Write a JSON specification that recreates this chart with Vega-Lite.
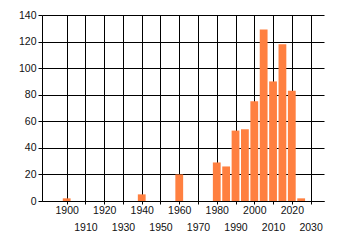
{
  "$schema": "https://vega.github.io/schema/vega-lite/v6.json",
  "width": 282,
  "height": 186,
  "autosize": {"type": "none"},
  "padding": {"left": 42, "top": 15, "right": 16, "bottom": 44},
  "background": "white",
  "config": {
    "view": {"stroke": null},
    "axis": {
      "labelFont": "Liberation Sans",
      "labelFontSize": 10.5,
      "labelColor": "#111111",
      "domainColor": "black",
      "domainWidth": 1,
      "tickColor": "black",
      "gridColor": "black",
      "gridOpacity": 1,
      "gridWidth": 1,
      "title": null
    }
  },
  "data": {
    "values": [
      {"year": 1900, "count": 2},
      {"year": 1940, "count": 5},
      {"year": 1960, "count": 20},
      {"year": 1980, "count": 29},
      {"year": 1985, "count": 26},
      {"year": 1990, "count": 53},
      {"year": 1995, "count": 54},
      {"year": 2000, "count": 75},
      {"year": 2005, "count": 129},
      {"year": 2010, "count": 90},
      {"year": 2015, "count": 118},
      {"year": 2020, "count": 83},
      {"year": 2025, "count": 2}
    ]
  },
  "mark": {"type": "bar", "size": 7.8, "color": "#FF8040"},
  "encoding": {
    "x": {
      "field": "year",
      "type": "quantitative",
      "scale": {"domain": [1889.5, 2034.5], "nice": false, "zero": false},
      "axis": {
        "values": [1900, 1910, 1920, 1930, 1940, 1950, 1960, 1970, 1980, 1990, 2000, 2010, 2020, 2030],
        "format": "d",
        "grid": true,
        "tickSize": 3,
        "labelPadding": {"condition": {"test": "datum.value % 20 == 10", "value": 18}, "value": 1},
        "labelOverlap": false,
        "labelFlush": false
      }
    },
    "y": {
      "field": "count",
      "type": "quantitative",
      "scale": {"domain": [0, 140], "nice": false},
      "axis": {
        "values": [0, 20, 40, 60, 80, 100, 120, 140],
        "grid": true,
        "tickSize": 4,
        "labelPadding": 2,
        "labelOverlap": false,
        "labelFlush": false
      }
    }
  }
}
